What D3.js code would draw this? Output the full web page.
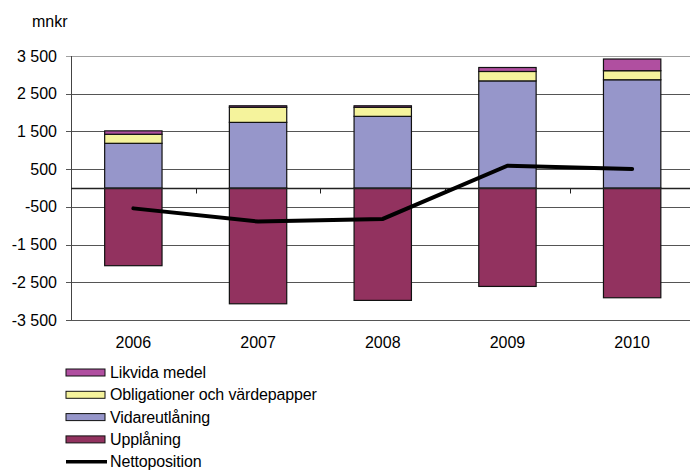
<!DOCTYPE html>
<html>
<head>
<meta charset="utf-8">
<script src="https://cdn.jsdelivr.net/npm/d3@7"></script>
<style>
  body { margin: 0; background: #fff; }
  svg { font-family: "Liberation Sans", Arial, sans-serif; }
</style>
</head>
<body>
<div id="chart"></div>
<script>
// data (mnkr)
const years = ["2006", "2007", "2008", "2009", "2010"];
const likvidaMedel = [90, 40, 40, 105, 310];
const obligationer = [240, 400, 240, 250, 240];
const vidareutlaning = [1185, 1740, 1900, 2840, 2870];
const upplaning = [-2060, -3070, -2980, -2610, -2910];
const nettoposition = [-540, -890, -820, 590, 505];
const yTicks = [3500, 2500, 1500, 500, -500, -1500, -2500, -3500];

const width = 690;
const height = 471;
const margin = {top: 56, left: 71};
const plotW = 623.5;
const plotH = 264;

const svg = d3.select("#chart").append("svg")
  .attr("width", width)
  .attr("height", height);

// scales

const xScale = d3.scaleBand()
  .domain(years)
  .range([margin.left, margin.left + plotW])
  .paddingInner(0.54)
  .paddingOuter(0.27);

const yScale = d3.scaleLinear()
  .domain([-3500, 3500])
  .range([margin.top + plotH, margin.top]);

const fmt = d3.formatLocale({decimal: ",", thousands: " ", grouping: [3], currency: ["", " kr"], minus: "-"}).format(",d");

// y labels
const yg = svg.append("g")
  .attr("transform", `translate(${margin.left - 5}, 0)`)
  .call(d3.axisLeft(yScale).tickValues(yTicks).tickSize(0).tickFormat(fmt).tickPadding(9));
yg.select(".domain").remove();
yg.selectAll("text")
  .attr("font-size", 16)
  .attr("font-family", "Liberation Sans, Arial, sans-serif")
  .attr("fill", "#000");

// gridlines
svg.append("g")
  .selectAll("line")
  .data(yTicks)
  .join("line")
  .attr("x1", margin.left - 5)
  .attr("x2", margin.left + plotW)
  .attr("y1", d => Math.round(yScale(d)) + 0.5)
  .attr("y2", d => Math.round(yScale(d)) + 0.5)
  .attr("stroke", d => d === 3500 ? "#a0a0a0" : "#555")
  .attr("stroke-width", 1);

// y axis line
svg.append("line")
  .attr("x1", margin.left + 0.5).attr("x2", margin.left + 0.5)
  .attr("y1", yScale(3500)).attr("y2", yScale(-3500))
  .attr("stroke", "#444");

// stacked bars
const series = [
  {name: "Upplåning", values: upplaning, color: "#92325F"},
  {name: "Vidareutlåning", values: vidareutlaning, color: "#9696CA"},
  {name: "Obligationer och värdepapper", values: obligationer, color: "#F5F39C"},
  {name: "Likvida medel", values: likvidaMedel, color: "#B04FA0"}
];

const rows = years.map((y, i) => ({
  year: y,
  upplaning: upplaning[i],
  vidare: vidareutlaning[i],
  oblig: obligationer[i],
  likvida: likvidaMedel[i]
}));

const stacked = d3.stack()
  .keys(["upplaning", "vidare", "oblig", "likvida"])
  .offset(d3.stackOffsetDiverging)(rows);

svg.append("g")
  .selectAll("g")
  .data(stacked)
  .join("g")
  .attr("fill", (d, i) => series[i].color)
  .selectAll("rect")
  .data(d => d)
  .join("rect")
  .attr("x", d => xScale(d.data.year))
  .attr("width", xScale.bandwidth())
  .attr("y", d => yScale(d[1]))
  .attr("height", d => yScale(d[0]) - yScale(d[1]))
  .attr("stroke", "#111")
  .attr("stroke-width", 1.2);

// zero line with category ticks
const zeroY = Math.round(yScale(0)) + 0.5;
svg.append("line")
  .attr("x1", margin.left).attr("x2", margin.left + plotW)
  .attr("y1", zeroY).attr("y2", zeroY)
  .attr("stroke", "#222").attr("stroke-width", 1.5);

const step = xScale.step();
svg.append("g")
  .selectAll("line")
  .data(years.slice(1))
  .join("line")
  .attr("x1", d => Math.round(xScale(d) - xScale.paddingInner() * step / 2) + 0.5)
  .attr("x2", d => Math.round(xScale(d) - xScale.paddingInner() * step / 2) + 0.5)
  .attr("y1", zeroY)
  .attr("y2", zeroY + 5)
  .attr("stroke", "#222");

// x labels
svg.append("g")
  .selectAll("text")
  .data(years)
  .join("text")
  .attr("x", d => xScale(d) + xScale.bandwidth() / 2)
  .attr("y", 348)
  .attr("text-anchor", "middle")
  .attr("font-size", 16)
  .text(d => d);

// net position line
const lineGen = d3.line()
  .x((d, i) => xScale(years[i]) + xScale.bandwidth() / 2)
  .y(d => yScale(d));

svg.append("path")
  .datum(nettoposition)
  .attr("d", lineGen)
  .attr("fill", "none")
  .attr("stroke", "#000")
  .attr("stroke-width", 4)
  .attr("stroke-linecap", "round");

// unit label
svg.append("text")
  .attr("x", 32)
  .attr("y", 27)
  .attr("font-size", 16)
  .text("mnkr");

// legend
const legendItems = [
  {name: "Likvida medel", color: "#B04FA0"},
  {name: "Obligationer och värdepapper", color: "#F5F39C"},
  {name: "Vidareutlåning", color: "#9696CA"},
  {name: "Upplåning", color: "#92325F"},
  {name: "Nettoposition", line: true}
];

const legend = svg.append("g")
  .selectAll("g")
  .data(legendItems)
  .join("g")
  .attr("transform", (d, i) => `translate(66, ${372.5 + i * 22.3})`);

legend.filter(d => !d.line)
  .append("rect")
  .attr("x", 0).attr("y", -3.5)
  .attr("width", 39).attr("height", 7)
  .attr("fill", d => d.color)
  .attr("stroke", "#111");

legend.filter(d => d.line)
  .append("line")
  .attr("x1", 0).attr("x2", 41)
  .attr("y1", 0).attr("y2", 0)
  .attr("stroke", "#000")
  .attr("stroke-width", 3.5);

legend.append("text")
  .attr("x", 44)
  .attr("y", 5.5)
  .attr("font-size", 16)
  .attr("letter-spacing", -0.15)
  .text(d => d.name);
</script>
</body>
</html>
